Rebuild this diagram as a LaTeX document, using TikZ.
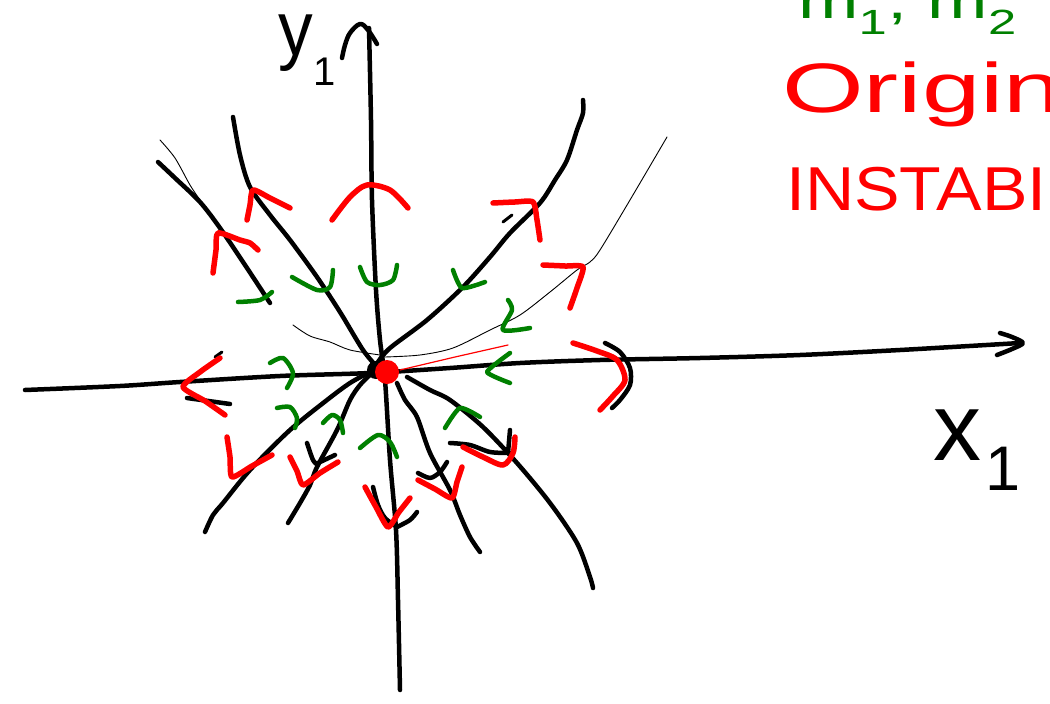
\documentclass[tikz,border=0pt]{standalone}
\usepackage{fontspec}
\setmainfont{Liberation Sans}
\definecolor{hgreen}{RGB}{0,128,0}
\definecolor{hred}{RGB}{255,0,0}
\begin{document}
\begin{tikzpicture}[x=1pt,y=-1pt,line cap=round,line join=round,
  blk/.style={draw=black,line width=4.5pt},
  thn/.style={draw=black,line width=0.9pt},
  rarr/.style={draw=hred,line width=5.5pt},
  garr/.style={draw=hgreen,line width=4.5pt},
  hand/.style={inner sep=0pt,anchor=base west}]
\useasboundingbox (0,0) rectangle (1050,704);
\clip (0,0) rectangle (1050,704);
% texts
\node[hand,text=hgreen] (tm) at (798,19) {\fontsize{50}{50}\selectfont\scalebox{1.45}[1]{m\textsubscript{1}, m\textsubscript{2}}};
\node[hand,text=hred] (tor) at (782,112) {\fontsize{70}{70}\selectfont\scalebox{1.5}[1]{Origine}};
\node[hand,text=hred] (tin) at (786,210) {\fontsize{62}{62}\selectfont\scalebox{1.1}[1]{INSTABILE}};
\node[hand] (ty) at (278,55) {\fontsize{77}{77}\selectfont\scalebox{0.9}[1]{y}};
\node[hand] (ty1) at (313,85) {\fontsize{40}{40}\selectfont 1};
\node[hand] (tx) at (933,460) {\fontsize{96}{96}\selectfont x};
\node[hand] (tx1) at (985,490) {\fontsize{63}{63}\selectfont 1};
% axes
\draw[blk] plot[smooth,tension=0.5] coordinates {(369,28) (371,120) (372,200) (376,290) (380,340) (385,380) (390,460) (396,530) (398,600) (400,690)};
\draw[blk] plot[smooth,tension=0.6] coordinates {(342,58) (345,45) (350,33) (360,24) (368,30) (377,44)};
\draw[blk] plot[smooth,tension=0.5] coordinates {(25,390) (120,386) (180,382) (280,376) (370,373) (450,368) (520,363) (600,360) (700,358) (800,355) (900,350) (1020,343)};
\draw[blk] plot[smooth,tension=0.5] coordinates {(1000,333) (1012,337) (1023,343) (1012,349) (997,355)};
% trajectories upper
\draw[blk] plot[smooth,tension=0.5] coordinates {(233,117) (240,155) (250,187) (270,215) (290,240) (317,277) (340,312) (363,350) (378,368)};
\draw[blk] plot[smooth,tension=0.5] coordinates {(158,162) (175,178) (200,202) (220,228) (245,265) (270,303)};
\draw[thn] plot[smooth,tension=0.5] coordinates {(160,140) (175,158) (190,185) (200,200)};
\draw[thn] plot[smooth,tension=0.5] coordinates {(293,325) (310,336) (330,342) (350,350) (380,355)};
\draw[thn] plot[smooth,tension=0.5] coordinates {(385,357) (420,355) (453,348) (490,330) (520,315) (550,292) (577,270) (590,262) (600,250) (630,200) (667,137)};
\draw[blk] plot[smooth,tension=0.5] coordinates {(583,100) (583,113) (577,130) (567,160) (555,180) (540,203) (510,233) (490,257) (463,287) (427,320) (390,348) (378,362)};
\draw[blk,line width=3pt] (503,222) -- (512,215);
% trajectories lower
\draw[blk] plot[smooth,tension=0.5] coordinates {(205,532) (213,515) (223,503) (250,470) (290,430) (327,400) (350,383) (370,372)};
\draw[blk] plot[smooth,tension=0.5] coordinates {(288,523) (300,503) (310,485) (317,467) (337,430) (350,400) (360,385) (372,373)};
\draw[blk] plot[smooth,tension=0.5] coordinates {(307,443) (313,460) (318,465)};
\draw[blk] (318,463) -- (335,455);
\draw[blk] plot[smooth,tension=0.5] coordinates {(397,383) (405,400) (417,417) (430,453) (450,490) (460,515) (470,537) (480,552)};
\draw[blk] plot[smooth,tension=0.5] coordinates {(407,377) (430,390) (450,400) (483,427) (517,463) (550,503) (577,543) (590,577) (593,588)};
\draw[blk] plot[smooth,tension=0.5] coordinates {(605,343) (620,352) (630,368) (630,385) (620,400) (612,408)};
\draw[blk] (187,398) -- (230,404);
\draw[blk,line width=3pt] (222,352) -- (215,357);
\draw[blk] plot[smooth,tension=0.5] coordinates {(450,443) (470,445) (490,452) (510,453)};
\draw[blk] (510,430) -- (508,453);
\draw[blk] plot[smooth,tension=0.5] coordinates {(373,487) (378,505) (385,518) (397,527)};
\draw[blk] plot[smooth,tension=0.5] coordinates {(397,527) (410,520) (417,512)};
\draw[blk] plot[smooth,tension=0.5] coordinates {(418,473) (430,478) (440,472) (447,462)};
% origin
\fill[black] (376,370) circle (9);
\fill[hred] (387,372) circle (12);
\draw[hred,line width=1.2pt] (400,370) -- (455,357) -- (508,345);
% red arrows
\draw[rarr] plot[smooth,tension=0.4] coordinates {(247,220) (250,205) (253,190) (270,198) (290,208)};
\draw[rarr] plot[smooth,tension=0.4] coordinates {(213,273) (216,250) (218,233) (240,240) (250,243) (258,250)};
\draw[rarr] plot[smooth,tension=0.5] coordinates {(332,220) (350,197) (367,185) (390,190) (408,208)};
\draw[rarr] plot[smooth,tension=0.4] coordinates {(493,203) (515,202) (533,202) (537,220) (540,240)};
\draw[rarr] plot[smooth,tension=0.4] coordinates {(543,265) (565,266) (583,267) (577,288) (570,308)};
\draw[rarr] plot[smooth,tension=0.4] coordinates {(220,358) (200,372) (183,387) (205,401) (225,415)};
\draw[rarr] plot[smooth,tension=0.4] coordinates {(227,437) (230,457) (232,477) (252,466) (272,455)};
\draw[rarr] plot[smooth,tension=0.4] coordinates {(290,457) (297,471) (303,485) (320,473) (338,462)};
\draw[rarr] plot[smooth,tension=0.4] coordinates {(365,487) (376,507) (388,527) (399,512) (410,498)};
\draw[rarr] plot[smooth,tension=0.4] coordinates {(418,480) (435,489) (452,498) (457,482) (462,467)};
\draw[rarr] plot[smooth,tension=0.5] coordinates {(463,447) (483,457) (503,465) (513,453) (515,437)};
\draw[rarr] plot[smooth,tension=0.5] coordinates {(573,343) (597,351) (617,360) (625,380) (613,396) (600,410)};
% green arrows
\draw[garr] plot[smooth,tension=0.5] coordinates {(238,302) (260,300) (272,292)};
\draw[garr] plot[smooth,tension=0.5] coordinates {(292,277) (317,290) (330,287) (333,270)};
\draw[garr] plot[smooth,tension=0.5] coordinates {(360,267) (367,282) (380,285) (393,280) (397,265)};
\draw[garr] plot[smooth,tension=0.4] coordinates {(453,270) (462,288) (485,282)};
\draw[garr] plot[smooth,tension=0.5] coordinates {(508,300) (512,310) (503,330) (530,328)};
\draw[garr] plot[smooth,tension=0.5] coordinates {(270,363) (283,358) (293,373) (287,388)};
\draw[garr] plot[smooth,tension=0.3] coordinates {(510,353) (487,372) (510,383)};
\draw[garr] plot[smooth,tension=0.5] coordinates {(277,408) (290,407) (297,418) (295,428)};
\draw[garr] plot[smooth,tension=0.5] coordinates {(323,423) (332,415) (340,420) (343,433)};
\draw[garr] plot[smooth,tension=0.5] coordinates {(360,448) (378,435) (390,442) (397,457)};
\draw[garr] plot[smooth,tension=0.4] coordinates {(445,428) (460,408) (480,417)};
\end{tikzpicture}
\end{document}
